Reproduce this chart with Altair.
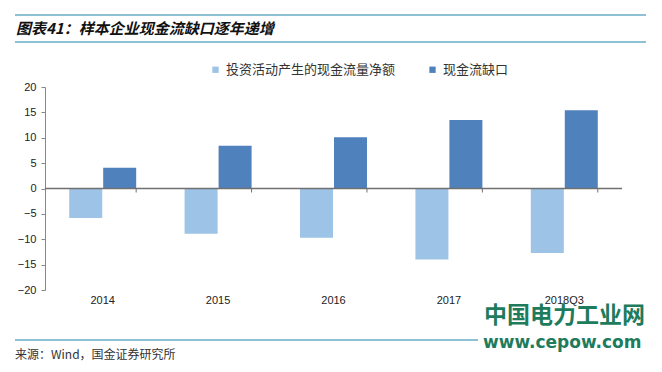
import altair as alt
import pandas as pd

categories = ["2014", "2015", "2016", "2017", "2018Q3"]
series_names = ["投资活动产生的现金流量净额", "现金流缺口"]
invest_net = [-5.8, -8.9, -9.7, -14.0, -12.7]
cash_gap = [4.1, 8.4, 10.1, 13.5, 15.4]
colors = ["#9DC3E6", "#4F81BD"]
y_ticks = [-20, -15, -10, -5, 0, 5, 10, 15, 20]

title_text = "图表41：样本企业现金流缺口逐年递增"
source_text = "来源：Wind，国金证券研究所"
wm1 = "中国电力工业网"
wm2 = "www.cepow.com"

rows = []
for i, c in enumerate(categories):
    rows.append({"cat": c, "series": series_names[0], "value": invest_net[i]})
    rows.append({"cat": c, "series": series_names[1], "value": cash_gap[i]})
df = pd.DataFrame(rows)

W, H = 577, 203
OX, OY = 45, 87  # page position of plot origin

xscale = alt.Scale(domain=categories, paddingInner=0.42, paddingOuter=0.21)
yscale = alt.Scale(domain=[-20, 20], nice=False)

bars = alt.Chart(df).mark_bar(size=33).encode(
    x=alt.X("cat:N", scale=xscale, sort=categories,
            axis=alt.Axis(title=None, domain=False, ticks=False, labelAngle=0,
                          labelFont="Liberation Sans", labelFontSize=11,
                          labelColor="#222222", labelPadding=4)),
    xOffset=alt.XOffset("series:N", sort=series_names,
                        scale=alt.Scale(domain=series_names, paddingInner=0.03)),
    y=alt.Y("value:Q", scale=yscale,
            axis=alt.Axis(title=None, values=y_ticks, grid=False,
                          labelOverlap=False, labelFlush=False,
                          domainColor="#888888", tickColor="#888888", tickSize=4,
                          labelFont="Liberation Sans", labelFontSize=11,
                          labelColor="#222222", labelPadding=5)),
    color=alt.Color("series:N", sort=series_names,
                    scale=alt.Scale(domain=series_names, range=colors),
                    legend=alt.Legend(title=None, orient="none", direction="horizontal",
                                      legendX=215 - OX - 6, legendY=71 - OY - 8,
                                      symbolType="square", symbolSize=40,
                                      labelFont="Noto Sans CJK SC", labelFontSize=13,
                                      labelColor="#333333", columnPadding=30,
                                      labelLimit=0,
                                      symbolStrokeWidth=0, labelOffset=4)),
)

zero_df = pd.DataFrame({"v": [0]})
zero_line = alt.Chart(zero_df).mark_rule(color="#707070", strokeWidth=1.3).encode(
    y=alt.Y("v:Q", scale=yscale, axis=None), x=alt.value(0), x2=alt.value(W))

tick_df = pd.DataFrame({"cat": categories})
zero_ticks = alt.Chart(tick_df).mark_rule(color="#707070", strokeWidth=1).encode(
    x=alt.X("cat:N", scale=xscale, sort=categories, bandPosition=1, axis=None),
    y=alt.value(H / 2), y2=alt.value(H / 2 + 4))

deco_lines_df = pd.DataFrame({
    "x": [15 - OX, 15 - OX, 15 - OX],
    "x2": [646 - OX, 646 - OX, 478 - OX],
    "y": [15 - OY, 42 - OY, 340 - OY],
})
deco_lines = alt.Chart(deco_lines_df).mark_rule(color="#8FC1D6", strokeWidth=2).encode(
    x=alt.X("x:Q", scale=None, axis=None), x2="x2:Q", y=alt.Y("y:Q", scale=None, axis=None))

title = alt.Chart(pd.DataFrame({"t": [title_text]})).mark_text(
    align="left", baseline="middle", font="Noto Sans CJK SC", fontSize=15,
    fontWeight="bold", fontStyle="italic", color="#111111").encode(
    text="t:N", x=alt.value(16 - OX), y=alt.value(29 - OY))

source = alt.Chart(pd.DataFrame({"t": [source_text]})).mark_text(
    align="left", baseline="middle", font="Noto Sans CJK SC", fontSize=12,
    color="#333333").encode(
    text="t:N", x=alt.value(15 - OX), y=alt.value(355 - OY))

wmark1 = alt.Chart(pd.DataFrame({"t": [wm1]})).mark_text(
    align="left", baseline="middle", font="Noto Sans CJK SC", fontSize=23,
    fontWeight="bold", color="#1E7B5C").encode(
    text="t:N", x=alt.value(484 - OX), y=alt.value(316 - OY))

wmark2 = alt.Chart(pd.DataFrame({"t": [wm2]})).mark_text(
    align="left", baseline="middle", font="DejaVu Sans", fontSize=17,
    fontWeight="bold", color="#1E7B5C").encode(
    text="t:N", x=alt.value(483 - OX), y=alt.value(343 - OY))

chart = alt.layer(bars, deco_lines, zero_line, zero_ticks, title, source, wmark1, wmark2).properties(
    width=W, height=H,
    autosize=alt.AutoSizeParams(type="none"),
    padding={"left": OX - 8, "top": OY - 8, "right": 662 - 16 - (OX - 8) - W, "bottom": 372 - 16 - (OY - 8) - H},
    background="white",
).resolve_scale(y="independent", x="independent").configure_view(stroke=None)

chart.save("out.html", embed_options={"renderer": "svg", "actions": False})
